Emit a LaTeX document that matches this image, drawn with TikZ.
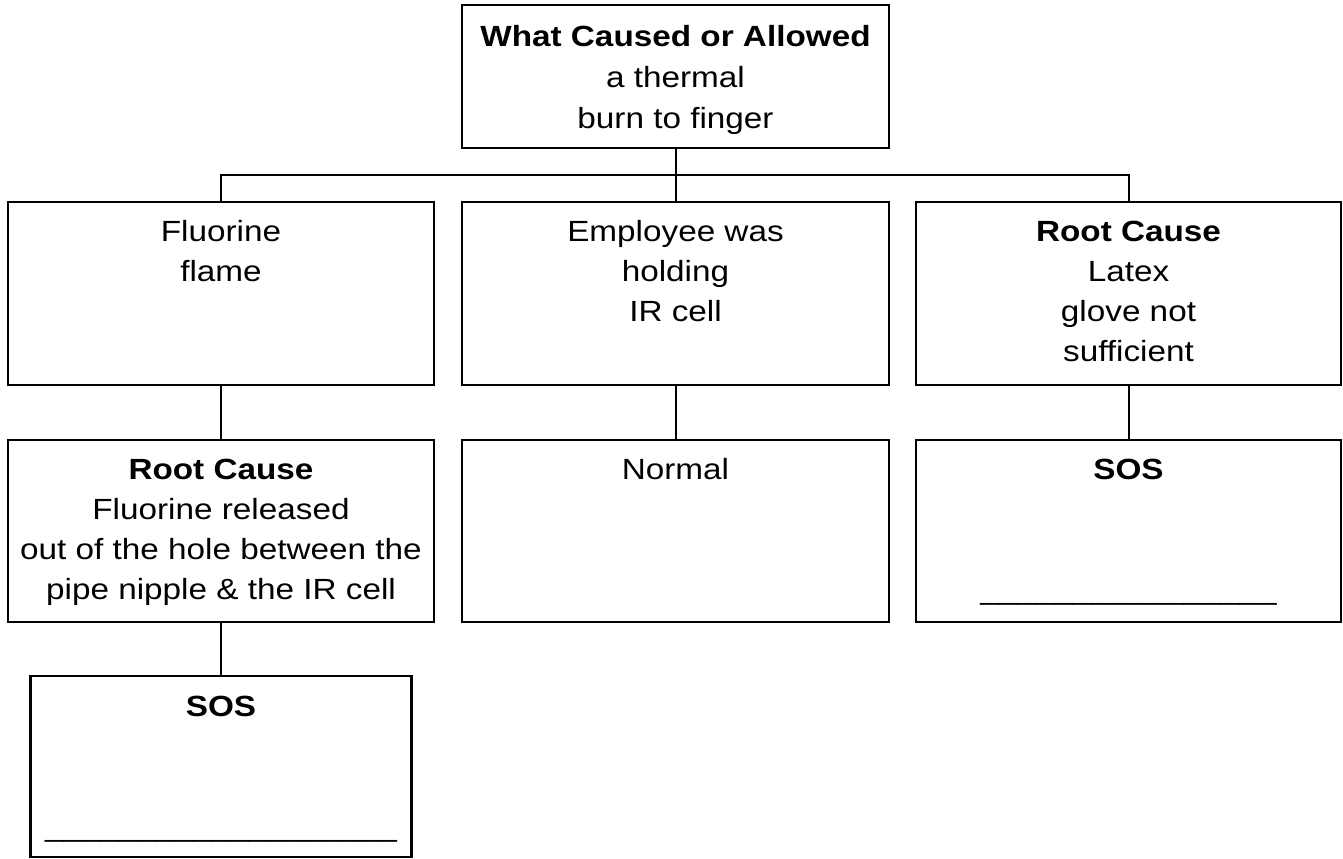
\documentclass[tikz,border=0pt]{standalone}
\usepackage{fontspec}
\setmainfont{Liberation Sans}[FakeStretch=1.14]
\begin{document}
\begin{tikzpicture}[x=0.5pt,y=-0.5pt,
  box/.style={draw=black,line width=1.25pt,inner sep=0pt,outer sep=0pt},
  conn/.style={draw=black,line width=1pt},
  txt/.style={anchor=north,inner sep=0pt,align=center,font=\fontsize{14.6}{20}\selectfont},
  ttxt/.style={anchor=north,inner sep=0pt,align=center,font=\fontsize{14.6}{20.5}\selectfont}]
\useasboundingbox (0,0) rectangle (1343,858);
\fill[white] (0,0) rectangle (1343,858);
\newcommand{\fs}{\rule{0pt}{14pt}}
% boxes
\node[box,minimum width=213.5pt,minimum height=71.5pt] (top) at (675.5,76.5) {};
\node[box,minimum width=213pt,minimum height=91.5pt] (a) at (221,293.5) {};
\node[box,minimum width=213.5pt,minimum height=91.5pt] (b) at (675.5,293.5) {};
\node[box,minimum width=212.5pt,minimum height=91.5pt] (c) at (1128.5,293.5) {};
\node[box,minimum width=213pt,minimum height=91pt] (d) at (221,531) {};
\node[box,minimum width=213.5pt,minimum height=91pt] (e) at (675.5,531) {};
\node[box,minimum width=212.5pt,minimum height=91pt] (f) at (1128.5,531) {};
\node[box,minimum width=190.5pt,minimum height=90.5pt] (g) at (221,766.5) {};
% texts
\node[ttxt] (ttop) at (675.5,18) {\fs\textbf{What Caused or Allowed}\\a thermal\\burn to finger};
\node[txt] (ta) at (221,213) {\fs Fluorine\\flame};
\node[txt] (tb) at (675.5,213) {\fs Employee was\\holding\\IR cell};
\node[txt] (tc) at (1128.5,213) {\fs\textbf{Root Cause}\\Latex\\glove not\\sufficient};
\node[txt] (td) at (221,451) {\fs\textbf{Root Cause}\\Fluorine released\\out of the hole between the\\pipe nipple \& the IR cell};
\node[txt] (te) at (675.5,451) {\fs Normal};
\node[txt] (tf) at (1128.5,451) {\fs\textbf{SOS}\\[40pt]\_\_\_\_\_\_\_\_\_\_\_\_\_\_\_\_};
\node[txt] (tg) at (221,688) {\fs\textbf{SOS}\\[40pt]\_\_\_\_\_\_\_\_\_\_\_\_\_\_\_\_\_\_\_};
% connectors
\draw[conn] (top.south) -- (b.north);
\draw[conn] (a.north) -- ++(0,-27) -| (c.north);
\draw[conn] (a.south) -- (d.north);
\draw[conn] (b.south) -- (e.north);
\draw[conn] (c.south) -- (f.north);
\draw[conn] (d.south) -- (g.north);
\end{tikzpicture}
\end{document}
